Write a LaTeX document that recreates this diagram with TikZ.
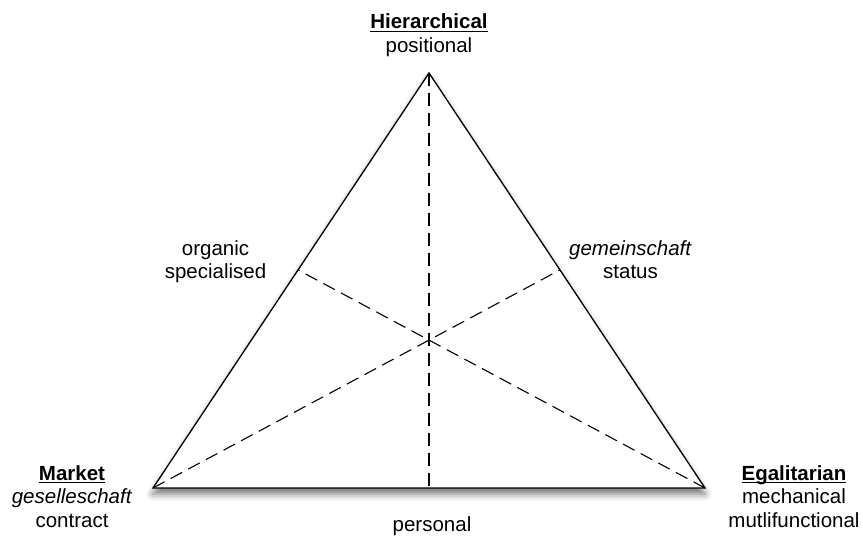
\documentclass[tikz,border=0pt]{standalone}
\usepackage{fontspec}
\setmainfont{Liberation Sans}
\usetikzlibrary{calc,shadows.blur}

% bold heading with an underline kept close to the baseline
\newcommand\headword[1]{\leavevmode\setbox0\hbox{\textbf{#1}}%
  \rlap{\rule[-3.4pt]{\wd0}{1.5pt}}\box0}

\tikzset{
  edge/.style={line width=1.3pt, line join=miter},
  divider/.style={line width=1.1pt, dash pattern=on 13pt off 7pt},
  % anchored at the baseline of the last line
  caption/.style={align=center, anchor=base, inner sep=0pt,
    font=\fontsize{20.5}{23.5}\selectfont},
}

\begin{document}
\begin{tikzpicture}[x=1pt, y=-1pt]
  \useasboundingbox (0,0) rectangle (863,537);

  % corners of the triangle
  \coordinate (top)   at (429,73);
  \coordinate (left)  at (153,488);
  \coordinate (right) at (705,488);

  % points where the bisectors meet the opposite sides
  \coordinate (footL) at ($(top)!0.4745!(left)$);
  \coordinate (footR) at ($(top)!0.4745!(right)$);
  \coordinate (footB) at ($(left)!0.5!(right)$);

  % triangle with a soft drop shadow
  \path[fill=white, blur shadow={shadow xshift=0pt, shadow yshift=-6pt,
        shadow blur radius=7pt, shadow opacity=55}]
    (top) -- (left) -- (right) -- cycle;
  \draw[edge] (top) -- (left) -- (right) -- cycle;

  % dashed bisectors
  \draw[divider] (top) -- (footB);
  \draw[divider] (right) -- (footL);
  \draw[divider] (left) -- (footR);

  % labels
  \node[caption] (hier) at (429,52.5) {\headword{Hierarchical}\\positional};
  \node[caption] (market) at (72,527)
    {\headword{Market}\\\textit{geselleschaft}\\contract};
  \node[caption] (egal) at (794,527)
    {\headword{Egalitarian}\\mechanical\\mutlifunctional};
  \node[caption] (org) at (215.5,279) {organic\\specialised};
  \node[caption] (gem) at (630.5,279) {\textit{gemeinschaft}\\status};
  \node[caption] (pers) at (432,532) {personal};
\end{tikzpicture}
\end{document}
